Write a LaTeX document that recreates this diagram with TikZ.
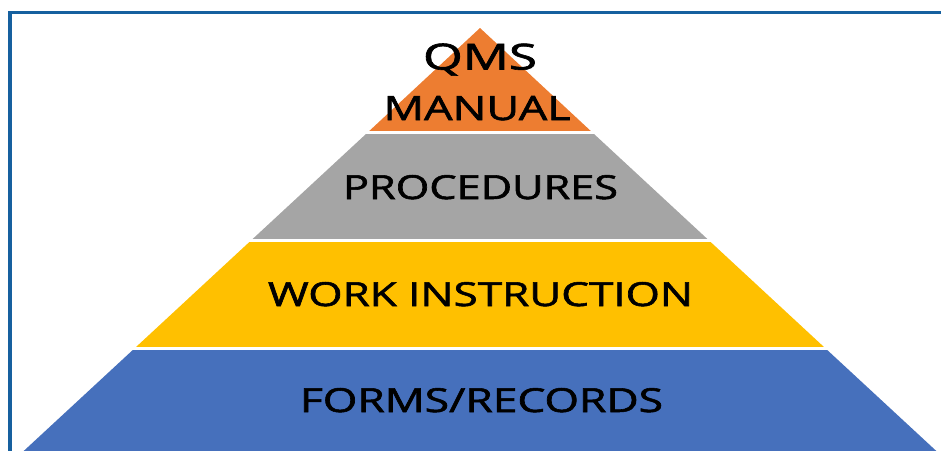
\documentclass[tikz,border=0pt]{standalone}
\usepackage{fontspec}
\usepackage{graphicx}
\setmainfont{Open Sans}
\newfontface\tierfont{Open Sans}[FakeBold=1.6]
\definecolor{tierOrange}{HTML}{ED7D31}
\definecolor{tierGray}{HTML}{A5A5A5}
\definecolor{tierYellow}{HTML}{FFC000}
\definecolor{tierBlue}{HTML}{4670BC}
\definecolor{frameBlue}{HTML}{16609F}
% label: exact width and cap height of the lettering
\newcommand{\tierlabel}[3]{\resizebox{#1pt}{#2pt}{\tierfont #3}}
\begin{document}
\begin{tikzpicture}[x=1pt,y=-1pt,
  tierlabel/.style={anchor=base,inner sep=0pt,text=black},
  separator/.style={white,line width=2.6pt}]
\useasboundingbox (0,0) rectangle (941,450);
\clip (0,0) rectangle (941,450);
% outer frame, running off the right and bottom edges
\draw[frameBlue,line width=3.6pt] (10,12.5) rectangle (990,500);
% pyramid tiers: apex (480,28), half-width grows 1.08 per unit of depth
\coordinate (apex) at (480,28);
\fill[tierOrange] (apex) -- (367.6,132.5) -- (592.4,132.5) -- cycle;
\fill[tierGray] (367.6,132.5) -- (251,240.5) -- (709,240.5) -- (592.4,132.5) -- cycle;
\fill[tierYellow] (251,240.5) -- (134.4,348.5) -- (825.6,348.5) -- (709,240.5) -- cycle;
\fill[tierBlue] (134.4,348.5) -- (2.6,470.5) -- (957.4,470.5) -- (825.6,348.5) -- cycle;
% white gaps between tiers
\draw[separator] (360,132.5) -- (600,132.5);
\draw[separator] (240,240.5) -- (720,240.5);
\draw[separator] (120,348.5) -- (840,348.5);
% labels
\node[tierlabel] (qms) at (480,69.5) {\tierlabel{114}{26}{QMS}};
\node[tierlabel] (manual) at (477,120) {\tierlabel{187}{24}{MANUAL}};
\node[tierlabel] (procedures) at (480.5,199) {\tierlabel{275}{24}{PROCEDURES}};
\node[tierlabel] (work) at (480.5,306) {\tierlabel{425}{24}{WORK INSTRUCTION}};
\node[tierlabel] (forms) at (481.5,412) {\tierlabel{363}{24}{FORMS/RECORDS}};
\end{tikzpicture}
\end{document}
